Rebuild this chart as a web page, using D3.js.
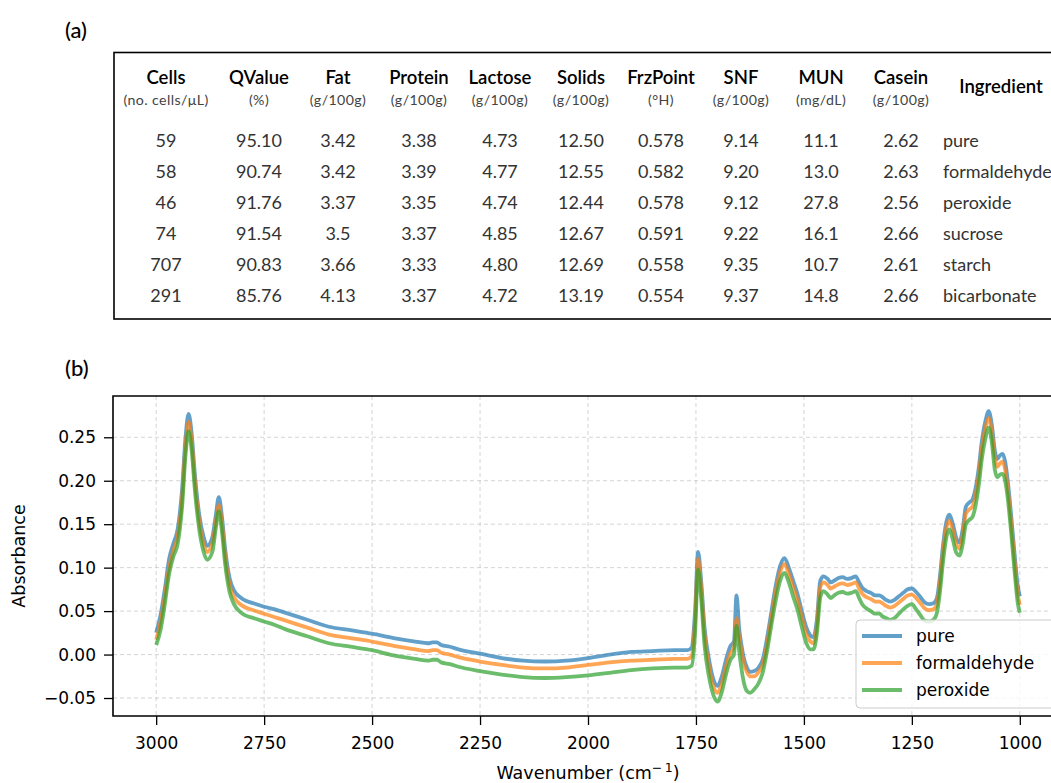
<!DOCTYPE html>
<html>
<head>
<meta charset="utf-8">
<script src="https://cdn.jsdelivr.net/npm/d3@7"></script>
<style>
  html, body { margin: 0; padding: 0; background: #fff; }
  svg { display: block; }
</style>
</head>
<body>
<svg id="fig" width="1051" height="783"></svg>
<script>
// ---- Table (a): milk composition per sample ----
const tableHeaders = ["Cells", "QValue", "Fat", "Protein", "Lactose", "Solids", "FrzPoint", "SNF", "MUN", "Casein"];
const tableUnits = ["(no. cells/\u03bcL)", "(%)", "(g/100g)", "(g/100g)", "(g/100g)", "(g/100g)", "(\u00b0H)", "(g/100g)", "(mg/dL)", "(g/100g)"];
const ingredients = ["pure", "formaldehyde", "peroxide", "sucrose", "starch", "bicarbonate"];
const cells    = ["59", "58", "46", "74", "707", "291"];
const qvalue   = ["95.10", "90.74", "91.76", "91.54", "90.83", "85.76"];
const fat      = ["3.42", "3.42", "3.37", "3.5", "3.66", "4.13"];
const protein  = ["3.38", "3.39", "3.35", "3.37", "3.33", "3.37"];
const lactose  = ["4.73", "4.77", "4.74", "4.85", "4.80", "4.72"];
const solids   = ["12.50", "12.55", "12.44", "12.67", "12.69", "13.19"];
const frzpoint = ["0.578", "0.582", "0.578", "0.591", "0.558", "0.554"];
const snf      = ["9.14", "9.20", "9.12", "9.22", "9.35", "9.37"];
const mun      = ["11.1", "13.0", "27.8", "16.1", "10.7", "14.8"];
const casein   = ["2.62", "2.63", "2.56", "2.66", "2.61", "2.66"];

// ---- Spectra (b): FTIR absorbance vs wavenumber ----
const wavenumbers = [
  3000,2990,2980,2970,2960,2950,2940,2932,2925,2918,
  2910,2900,2890,2882,2870,2862,2855,2848,2840,2830,
  2820,2800,2775,2750,2725,2700,2650,2600,2550,2500,
  2450,2400,2370,2360,2350,2340,2320,2300,2250,2200,
  2150,2100,2050,2000,1950,1900,1850,1800,1770,1760,
  1752,1745,1738,1730,1720,1710,1700,1690,1680,1670,
  1662,1656,1650,1645,1640,1632,1625,1615,1605,1595,
  1585,1575,1565,1555,1545,1535,1525,1515,1505,1495,
  1485,1478,1470,1462,1455,1445,1438,1430,1420,1410,
  1400,1390,1380,1372,1365,1355,1345,1335,1325,1318,
  1310,1300,1290,1280,1270,1260,1250,1240,1230,1220,
  1210,1200,1192,1185,1178,1170,1163,1155,1147,1140,
  1132,1125,1117,1110,1103,1095,1088,1080,1072,1065,
  1058,1052,1046,1040,1034,1028,1020,1012,1005,1000
];
const pure = [
  .025,.045,.075,.11,.128,.145,.19,.25,.277,.255,
  .205,.16,.135,.125,.135,.16,.181,.16,.12,.088,
  .074,.064,.059,.055,.052,.048,.040,.032,.028,.024,
  .019,.015,.013,.014,.014,.011,.009,.006,.001,-.004,
  -.007,-.008,-.007,-.004,.000,.003,.004,.005,.005,.008,
  .05,.118,.085,.03,-.005,-.028,-.036,-.025,-.005,.010,
  .015,.068,.03,.012,-.002,-.015,-.02,-.019,-.015,-.005,
  .02,.05,.08,.102,.111,.10,.085,.07,.05,.032,
  .022,.02,.04,.085,.09,.087,.083,.085,.088,.089,
  .087,.088,.09,.083,.077,.073,.071,.068,.068,.066,
  .063,.061,.063,.067,.071,.075,.076,.072,.066,.06,
  .058,.059,.065,.09,.125,.153,.161,.15,.134,.129,
  .145,.17,.175,.178,.19,.215,.245,.268,.28,.265,
  .235,.225,.229,.231,.222,.2,.16,.115,.08,.067
];
const formaldehyde = [
  .017,.037,.067,.10,.12,.137,.18,.24,.268,.246,
  .197,.152,.127,.118,.128,.152,.172,.152,.112,.08,
  .066,.056,.051,.047,.043,.039,.031,.023,.019,.015,
  .01,.006,.004,.005,.005,.002,.0,-.003,-.008,-.012,
  -.015,-.016,-.015,-.012,-.009,-.007,-.006,-.005,-.005,-.002,
  .04,.110,.077,.022,-.013,-.036,-.044,-.033,-.013,.002,
  .008,.042,.02,.005,-.008,-.02,-.025,-.025,-.02,-.011,
  .013,.043,.073,.095,.104,.093,.078,.063,.043,.025,
  .015,.013,.033,.078,.083,.08,.076,.078,.081,.082,
  .08,.081,.083,.076,.07,.066,.064,.061,.061,.059,
  .056,.054,.056,.06,.064,.068,.069,.065,.059,.053,
  .051,.052,.058,.083,.118,.146,.154,.143,.127,.122,
  .138,.162,.167,.17,.182,.207,.237,.26,.272,.257,
  .227,.216,.22,.222,.213,.191,.151,.106,.07,.057
];
const peroxide = [
  .011,.028,.058,.093,.113,.128,.17,.23,.257,.236,
  .187,.143,.118,.109,.118,.145,.165,.143,.103,.072,
  .058,.047,.042,.038,.034,.029,.021,.013,.009,.005,
  -.001,-.005,-.007,-.006,-.006,-.009,-.011,-.014,-.019,-.023,
  -.026,-.027,-.026,-.024,-.021,-.018,-.016,-.015,-.015,-.013,
  .025,.098,.065,.01,-.025,-.046,-.054,-.043,-.022,-.006,
  .0,.033,.005,-.015,-.03,-.042,-.044,-.04,-.033,-.02,
  .005,.035,.063,.085,.094,.083,.067,.052,.032,.014,
  .006,.006,.024,.066,.073,.069,.065,.068,.071,.072,
  .07,.071,.073,.065,.058,.053,.05,.047,.047,.044,
  .042,.04,.042,.047,.052,.056,.058,.052,.045,.039,
  .038,.04,.048,.072,.106,.135,.144,.132,.117,.114,
  .128,.15,.155,.158,.17,.195,.225,.248,.261,.245,
  .213,.204,.207,.208,.2,.18,.14,.095,.06,.048
];
const seriesNames = ["pure", "formaldehyde", "peroxide"];
const seriesColors = ["#1f77b4", "#ff7f0e", "#2ca02c"];
const xTicks = [3000, 2750, 2500, 2250, 2000, 1750, 1500, 1250, 1000];
const yTicks = [-0.05, 0.00, 0.05, 0.10, 0.15, 0.20, 0.25];

const svg = d3.select("#fig");
const tableFont = "Lato, 'Open Sans', sans-serif";
const axisFont = "'DejaVu Sans', sans-serif";

// ---------- Panel (a) ----------
svg.append("text").attr("x", 65).attr("y", 38)
  .attr("font-family", tableFont).attr("font-size", 22).attr("font-weight", 500)
  .text("(a)");

const box = { left: 114, top: 52.5, right: 1063, bottom: 319 };
svg.append("rect")
  .attr("x", box.left).attr("y", box.top)
  .attr("width", box.right - box.left).attr("height", box.bottom - box.top)
  .attr("fill", "none").attr("stroke", "#000").attr("stroke-width", 1.6);

const colCenters = [166, 259, 338, 419, 500, 581, 661, 741, 821, 901];
const columns = [cells, qvalue, fat, protein, lactose, solids, frzpoint, snf, mun, casein];
const rowY = d3.scalePoint().domain(d3.range(ingredients.length)).range([147, 302]);

const hdr = svg.append("g").attr("font-family", tableFont).attr("text-anchor", "middle");
hdr.selectAll("text.h").data(tableHeaders).join("text")
  .attr("class", "h")
  .attr("x", (d, i) => colCenters[i]).attr("y", 84)
  .attr("font-size", 18.5).attr("font-weight", 600).attr("fill", "#000")
  .text(d => d);
hdr.selectAll("text.u").data(tableUnits).join("text")
  .attr("class", "u")
  .attr("x", (d, i) => colCenters[i]).attr("y", 105)
  .attr("font-size", 14.2).attr("letter-spacing", 0.4).attr("fill", "#444")
  .text(d => d);
hdr.append("text").attr("x", 1001).attr("y", 93)
  .attr("font-size", 18.5).attr("font-weight", 600).attr("fill", "#000")
  .text("Ingredient");

const body = svg.append("g").attr("font-family", tableFont).attr("font-size", 18).attr("fill", "#333");
columns.forEach((col, c) => {
  body.selectAll(null).data(col).join("text")
    .attr("x", colCenters[c]).attr("y", (d, i) => rowY(i))
    .attr("text-anchor", "middle")
    .text(d => d);
});
body.selectAll(null).data(ingredients).join("text")
  .attr("x", 943).attr("y", (d, i) => rowY(i))
  .attr("text-anchor", "start")
  .text(d => d);

// ---------- Panel (b) ----------
svg.append("text").attr("x", 65).attr("y", 376)
  .attr("font-family", tableFont).attr("font-size", 22).attr("font-weight", 500)
  .text("(b)");

const plot = { left: 113, top: 396, right: 1063, bottom: 716 };
const x = d3.scaleLinear().domain([3100, 900]).range([plot.left, plot.right]);
const y = d3.scaleLinear().domain([-0.0707, 0.2975]).range([plot.bottom, plot.top]);

svg.append("clipPath").attr("id", "plotclip")
  .append("rect").attr("x", plot.left).attr("y", plot.top)
  .attr("width", plot.right - plot.left).attr("height", plot.bottom - plot.top);

// grid
const grid = svg.append("g").attr("stroke", "#b0b0b0").attr("stroke-opacity", 0.55)
  .attr("stroke-width", 1).attr("stroke-dasharray", "4,3");
grid.selectAll("line.gx").data(xTicks).join("line")
  .attr("x1", d => x(d)).attr("x2", d => x(d))
  .attr("y1", plot.top).attr("y2", plot.bottom);
grid.selectAll("line.gy").data(yTicks).join("line")
  .attr("x1", plot.left).attr("x2", plot.right)
  .attr("y1", d => y(d)).attr("y2", d => y(d));

// spectra
const allSeries = [pure, formaldehyde, peroxide];
const line = d3.line()
  .x(d => x(d[0])).y(d => y(d[1]))
  .curve(d3.curveMonotoneX);
const lines = svg.append("g").attr("clip-path", "url(#plotclip)");
allSeries.forEach((vals, s) => {
  const pts = wavenumbers.map((w, i) => [w, vals[i]]);
  lines.append("path")
    .attr("d", line(pts))
    .attr("fill", "none")
    .attr("stroke", seriesColors[s])
    .attr("stroke-opacity", 0.7)
    .attr("stroke-width", 3.8)
    .attr("stroke-linejoin", "round")
    .attr("stroke-linecap", "butt");
});

// axes
const xAxis = d3.axisBottom(x).tickValues(xTicks).tickSize(9).tickPadding(12).tickFormat(d3.format("d"));
const yAxis = d3.axisLeft(y).tickValues(yTicks).tickSize(9).tickPadding(8)
  .tickFormat(d => d3.format(".2f")(d).replace("-", "\u2212"));

const gx = svg.append("g").attr("transform", `translate(0,${plot.bottom})`).call(xAxis);
const gy = svg.append("g").attr("transform", `translate(${plot.left},0)`).call(yAxis);
[gx, gy].forEach(g => {
  g.select(".domain").remove();
  g.selectAll(".tick line").attr("stroke", "#000").attr("stroke-width", 1.3);
  g.selectAll(".tick text").attr("font-family", axisFont).attr("font-size", 17).attr("fill", "#000");
});

// spines (left, top, bottom)
const spines = svg.append("g").attr("stroke", "#000").attr("stroke-width", 1.6).attr("fill", "none");
spines.append("path").attr("d",
  `M${plot.right},${plot.top}H${plot.left}V${plot.bottom}H${plot.right}`);

// axis titles
svg.append("text")
  .attr("transform", `translate(25,${(plot.top + plot.bottom) / 2}) rotate(-90)`)
  .attr("text-anchor", "middle")
  .attr("font-family", axisFont).attr("font-size", 17.5)
  .text("Absorbance");
const xt = svg.append("text")
  .attr("x", (plot.left + plot.right) / 2).attr("y", 779)
  .attr("text-anchor", "middle")
  .attr("font-family", axisFont).attr("font-size", 17.5);
xt.append("tspan").text("Wavenumber (cm");
xt.append("tspan").attr("dy", -7).attr("font-size", 12.5).text("\u2212\u20091");
xt.append("tspan").attr("dy", 7).text(")");

// legend
const lg = svg.append("g").attr("transform", "translate(856,620)");
lg.append("rect").attr("x", 0).attr("y", 0).attr("width", 220).attr("height", 88)
  .attr("rx", 4).attr("fill", "#fff").attr("fill-opacity", 0.8)
  .attr("stroke", "#cccccc").attr("stroke-width", 1);
seriesNames.forEach((name, i) => {
  const ly = 16 + i * 27;
  lg.append("line").attr("x1", 6).attr("x2", 46).attr("y1", ly).attr("y2", ly)
    .attr("stroke", seriesColors[i]).attr("stroke-opacity", 0.7).attr("stroke-width", 3.8);
  lg.append("text").attr("x", 60).attr("y", ly + 6)
    .attr("font-family", axisFont).attr("font-size", 17)
    .text(name);
});
</script>
</body>
</html>
